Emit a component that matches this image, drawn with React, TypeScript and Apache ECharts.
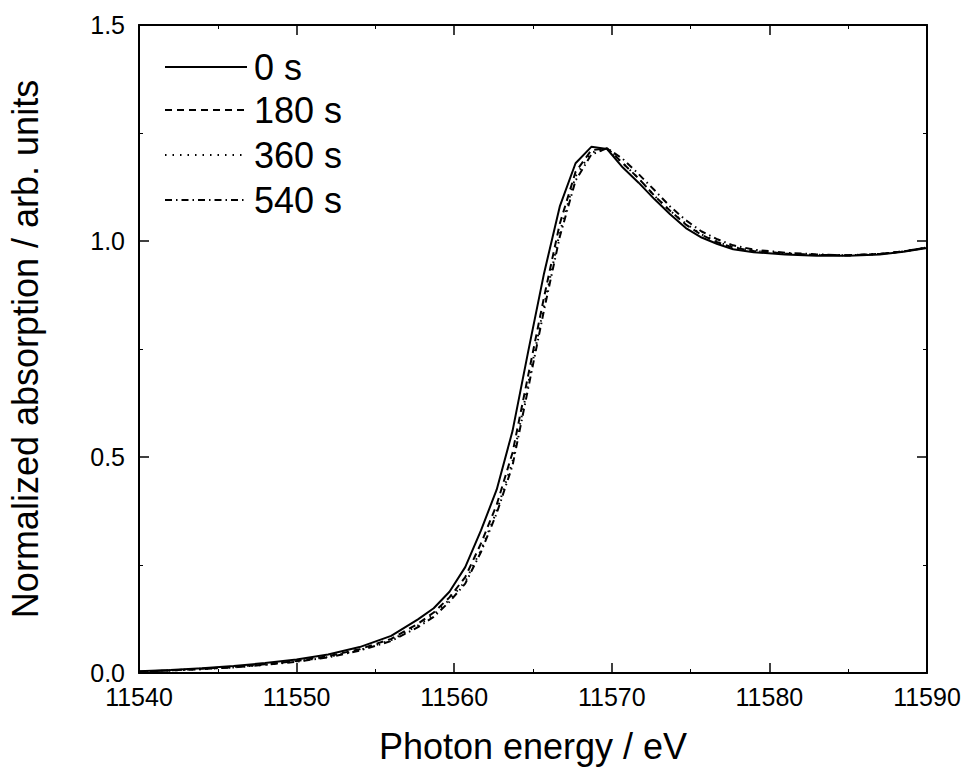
import React, { useEffect, useRef } from "react";
import * as echarts from "echarts";

const energies = [
  11540, 11542, 11544, 11546, 11548, 11550, 11552, 11554, 11556, 11557.7,
  11558.7, 11559.7, 11560.7, 11561.7, 11562.7, 11563.7, 11564.7, 11565.7, 11566.7, 11567.7,
  11568.7, 11569.7, 11570.7, 11571.7, 11572.7, 11573.7, 11574.7, 11575.7, 11576.7, 11577.7,
  11579, 11581, 11583, 11585, 11587, 11588.5, 11590,
];

const s0 = [
  0.004, 0.007, 0.011, 0.016, 0.023, 0.031, 0.043, 0.060, 0.086, 0.124,
  0.150, 0.188, 0.245, 0.330, 0.425, 0.560, 0.745, 0.925, 1.080, 1.180,
  1.218, 1.213, 1.170, 1.135, 1.097, 1.062, 1.030, 1.008, 0.993, 0.981,
  0.974, 0.969, 0.966, 0.966, 0.969, 0.975, 0.984,
];

const s180 = [
  0.003, 0.006, 0.010, 0.014, 0.020, 0.028, 0.039, 0.055, 0.079, 0.114,
  0.140, 0.175, 0.222, 0.300, 0.390, 0.510, 0.690, 0.870, 1.040, 1.160,
  1.210, 1.215, 1.180, 1.145, 1.105, 1.070, 1.038, 1.014, 0.997, 0.985,
  0.977, 0.971, 0.968, 0.967, 0.970, 0.976, 0.985,
];

const s360 = [
  0.003, 0.006, 0.009, 0.013, 0.019, 0.027, 0.037, 0.053, 0.076, 0.110,
  0.135, 0.170, 0.212, 0.285, 0.375, 0.490, 0.670, 0.850, 1.020, 1.150,
  1.205, 1.213, 1.180, 1.145, 1.105, 1.070, 1.040, 1.015, 0.998, 0.986,
  0.977, 0.971, 0.968, 0.967, 0.970, 0.976, 0.985,
];

const s540 = [
  0.003, 0.006, 0.009, 0.013, 0.019, 0.026, 0.036, 0.052, 0.074, 0.106,
  0.130, 0.165, 0.207, 0.280, 0.370, 0.480, 0.660, 0.840, 1.010, 1.140,
  1.200, 1.215, 1.190, 1.155, 1.118, 1.080, 1.048, 1.022, 1.004, 0.990,
  0.980, 0.973, 0.969, 0.967, 0.970, 0.976, 0.985,
];

const seriesNames = ["0 s", "180 s", "360 s", "540 s"];
const seriesData = [s0, s180, s360, s540];
const dashStyles: any[] = ["solid", [7, 5], [1.5, 6], [7, 4, 1.5, 4]];

const FONT = "Liberation Sans, Arial, sans-serif";

export default function App() {
  const ref = useRef<HTMLDivElement>(null);
  useEffect(() => {
    if (!ref.current) return;
    const chart = echarts.init(ref.current, null, { renderer: "svg" });
    const axisLine = { show: true, onZero: false, lineStyle: { color: "#000", width: 2 } };
    const tickCommon = { show: true, inside: true, length: 10, lineStyle: { color: "#000", width: 1.5 } };
    const minorCommon = { show: true, splitNumber: 2, length: 4, lineStyle: { color: "#000", width: 1 } };

    const legendRowsY = [67, 110, 155, 200];
    const legendGraphics: any[] = [];
    seriesNames.forEach((name, i) => {
      const dash = dashStyles[i];
      legendGraphics.push({
        type: "line",
        shape: { x1: 165, y1: legendRowsY[i], x2: 247, y2: legendRowsY[i] },
        style: {
          stroke: "#000",
          lineWidth: 2,
          lineDash: dash === "solid" ? null : dash,
        },
        z: 10,
      });
      legendGraphics.push({
        type: "text",
        x: 254,
        y: legendRowsY[i],
        style: {
          text: name,
          fill: "#000",
          fontSize: 36,
          fontFamily: FONT,
          verticalAlign: "middle",
          align: "left",
        },
        z: 10,
      });
    });

    chart.setOption({
      animation: false,
      backgroundColor: "#fff",
      textStyle: { fontFamily: FONT },
      grid: {
        left: 139,
        right: 37,
        top: 25,
        bottom: 94,
        containLabel: false,
        outerBoundsMode: "none",
      },
      graphic: legendGraphics,
      xAxis: [
        {
          type: "value",
          min: 11540,
          max: 11590,
          interval: 10,
          axisLine,
          axisTick: tickCommon,
          minorTick: minorCommon,
          splitLine: { show: false },
          axisLabel: {
            fontSize: 25,
            color: "#000",
            margin: 11,
            fontFamily: FONT,
            formatter: (v: number) => String(v),
          },
          name: "Photon energy / eV",
          nameLocation: "middle",
          nameGap: 55,
          nameTextStyle: { fontSize: 36, color: "#000", fontFamily: FONT },
        },
        {
          type: "value",
          position: "top",
          min: 11540,
          max: 11590,
          interval: 10,
          axisLine,
          axisTick: tickCommon,
          minorTick: minorCommon,
          splitLine: { show: false },
          axisLabel: { show: false },
        },
      ],
      yAxis: [
        {
          type: "value",
          min: 0,
          max: 1.5,
          interval: 0.5,
          axisLine,
          axisTick: tickCommon,
          minorTick: minorCommon,
          splitLine: { show: false },
          axisLabel: {
            fontSize: 25,
            color: "#000",
            margin: 14,
            fontFamily: FONT,
            formatter: (v: number) => v.toFixed(1),
          },
          name: "Normalized absorption / arb. units",
          nameLocation: "middle",
          nameGap: 96,
          nameTextStyle: { fontSize: 36, color: "#000", fontFamily: FONT },
        },
        {
          type: "value",
          position: "right",
          min: 0,
          max: 1.5,
          interval: 0.5,
          axisLine,
          axisTick: tickCommon,
          minorTick: minorCommon,
          splitLine: { show: false },
          axisLabel: { show: false },
        },
      ],
      series: seriesNames.map((name, i) => ({
        name,
        type: "line",
        xAxisIndex: 0,
        yAxisIndex: 0,
        symbol: "none",
        showSymbol: false,
        data: energies.map((e, j) => [e, seriesData[i][j]]),
        lineStyle: { color: "#000", width: 2, type: dashStyles[i] },
        itemStyle: { color: "#000" },
        z: 4 - i,
      })),
    });
    return () => chart.dispose();
  }, []);
  return (
    <div
      ref={ref}
      style={{ position: "fixed", left: 0, top: 0, width: 964, height: 767, background: "#fff" }}
    />
  );
}
